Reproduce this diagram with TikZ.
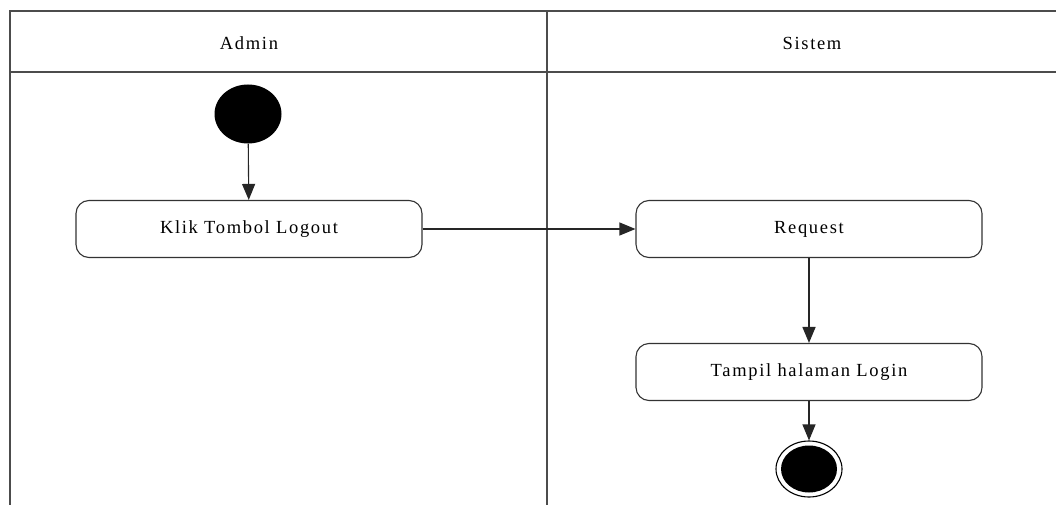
\documentclass[tikz,border=0pt]{standalone}
\usepackage{fontspec}
\setmainfont{Liberation Serif}[LetterSpace=9]
\usetikzlibrary{arrows.meta,shapes.geometric}
\tikzset{
  lane/.style={draw=black!70, line width=1.3pt},
  action/.style={draw=black!80, line width=1.1pt, rounded corners=13pt, minimum width=346pt, minimum height=57pt, inner sep=0pt, font=\fontsize{18.5}{20}\selectfont},
  head/.style={font=\fontsize{18.5}{20}\selectfont, inner sep=0pt},
  flow/.style={draw=black!85, line width=1.1pt, -{Triangle[length=16pt,width=13pt]}},
  startnode/.style={ellipse, fill=black, minimum width=67pt, minimum height=59pt, inner sep=0pt},
  endouter/.style={ellipse, draw=black, line width=1.1pt, fill=white, minimum width=66pt, minimum height=56pt, inner sep=0pt},
  endinner/.style={ellipse, fill=black, minimum width=56pt, minimum height=47pt, inner sep=0pt}
}
\begin{document}
\begin{tikzpicture}[x=1pt,y=-1pt]
\useasboundingbox (0,0) rectangle (1056,505);
\fill[white] (0,0) rectangle (1056,505);
% swimlanes
\draw[lane] (1056,11) -- (10,11) -- (10,505);
\draw[lane] (10,72) -- (1056,72);
\draw[lane] (547,11) -- (547,505);
\node[head] (hadmin) at (249,43) {Admin};
\node[head] (hsistem) at (812,43) {Sistem};
% nodes
\node[startnode] (start) at (248,114) {};
\node[action] (klik) at (249,229) {Klik Tombol Logout};
\node[action] (req) at (809,229) {Request};
\node[action] (tampil) at (809,372) {Tampil halaman Login};
\node[endouter] (endo) at (809,469) {};
\node[endinner] (endi) at (endo) {};
% flows
\draw[flow] (start) -- (klik);
\draw[flow] (klik) -- (req);
\draw[flow, line width=1.6pt] (req) -- (tampil);
\draw[flow] (tampil) -- (endo);
\end{tikzpicture}
\end{document}
